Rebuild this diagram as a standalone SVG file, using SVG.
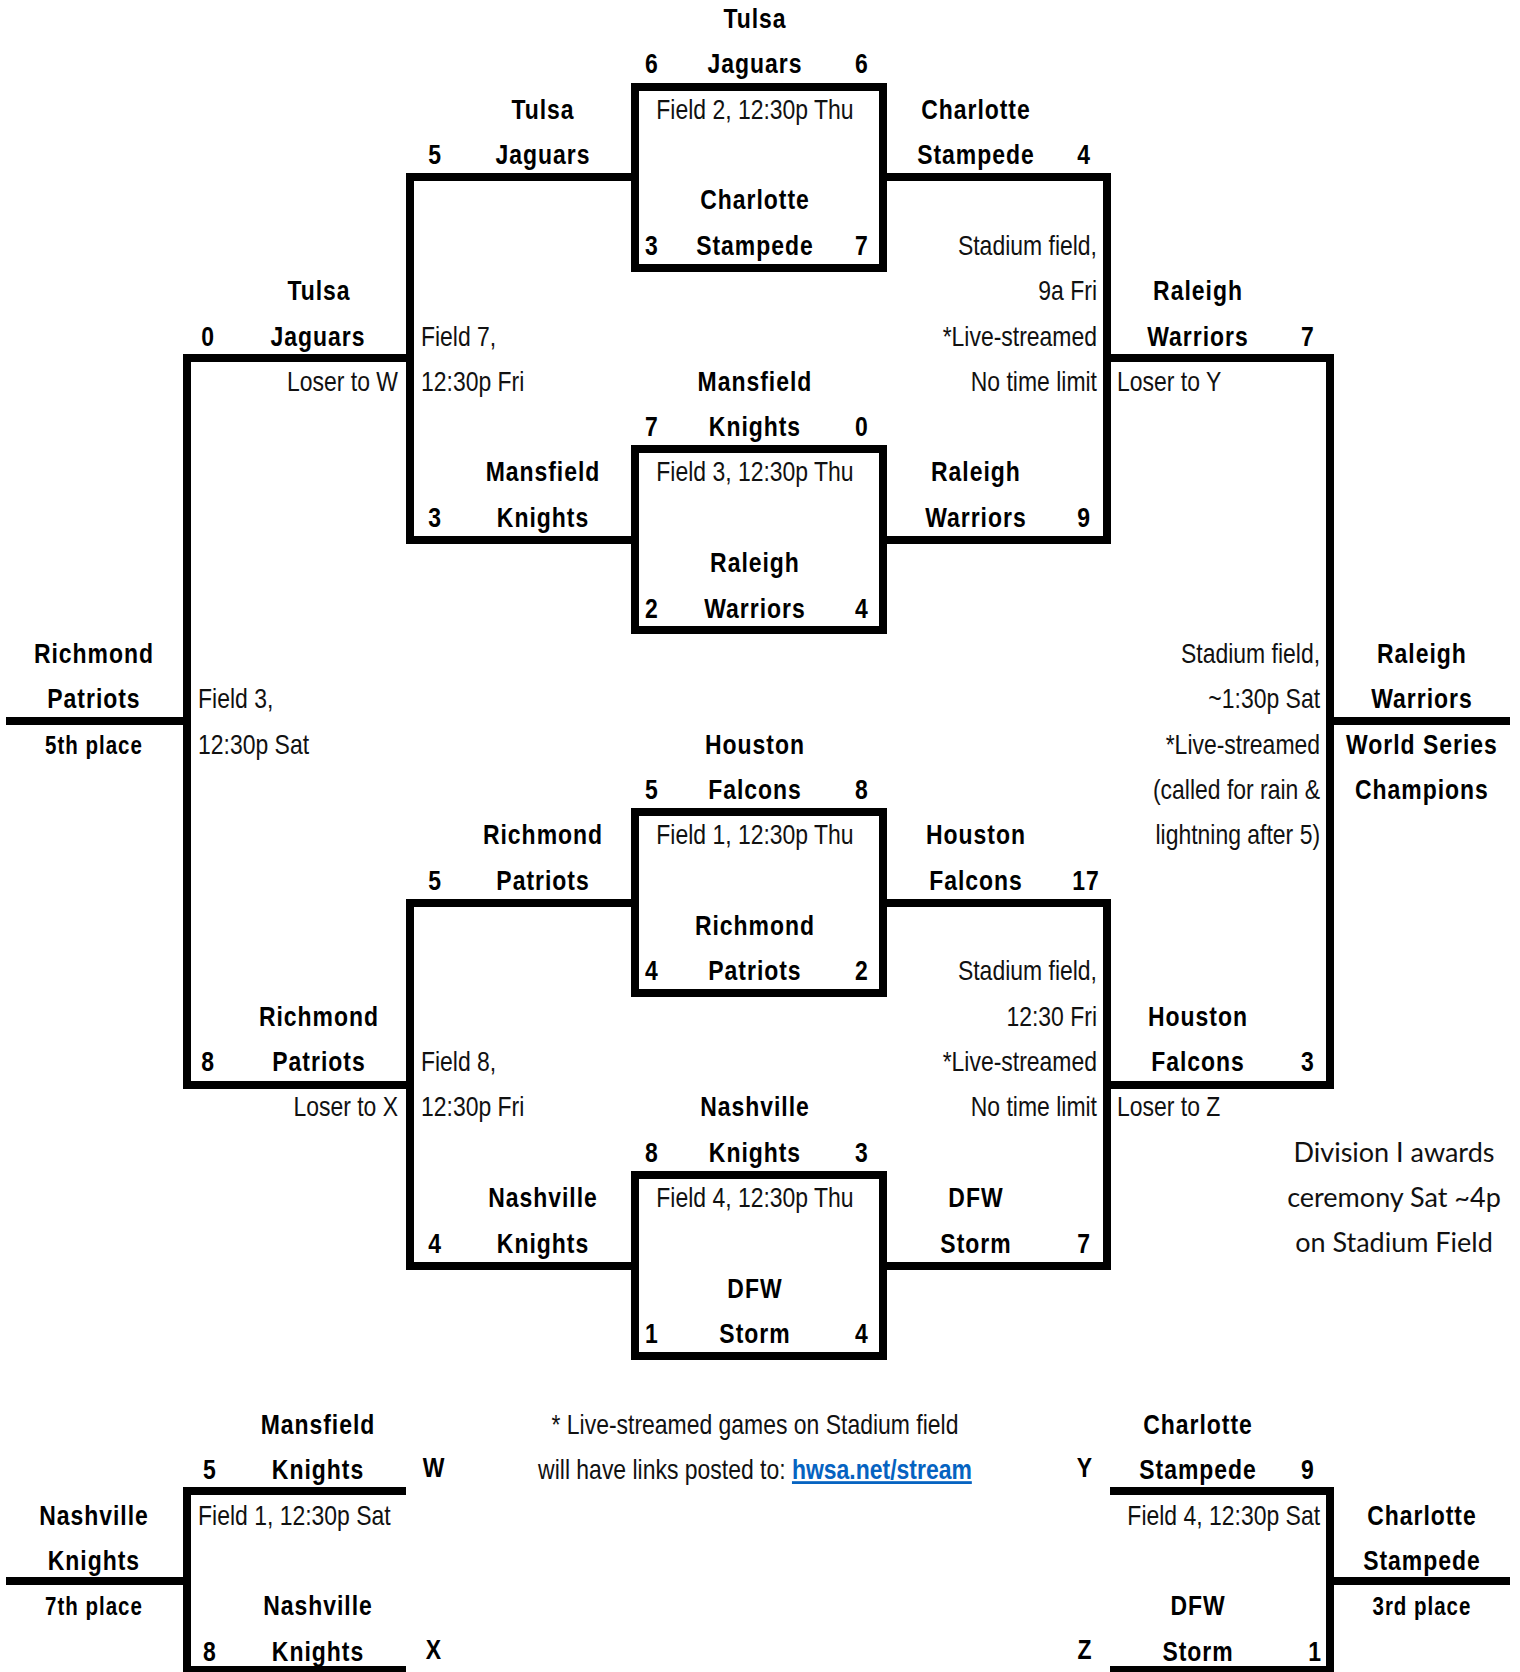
<svg xmlns="http://www.w3.org/2000/svg" width="1520" height="1672" viewBox="0 0 1520 1672">
<style>
text{font-family:"Liberation Sans",Arial,sans-serif;fill:#000}
.b{font-weight:bold;font-size:28px;letter-spacing:1.2px;text-anchor:middle}
.s{font-weight:bold;font-size:25px;letter-spacing:1.2px;text-anchor:middle}
.r{font-size:28px;text-anchor:middle;fill:#111}
.rs{font-size:28px;text-anchor:start;fill:#111}
.re{font-size:28px;text-anchor:end;fill:#111}
.c{font-family:Lato,"Open Sans",sans-serif;font-size:27px;text-anchor:middle;fill:#111}
.box{fill:none;stroke:#000;stroke-width:8}
.ln{fill:none;stroke:#000;stroke-width:8;stroke-linejoin:miter;stroke-linecap:square}
.lk{fill:#0563C1;font-weight:bold;text-decoration:underline}
</style>
<rect width="1520" height="1672" fill="#fff"/>
<g id="connectors">
<polyline class="ln" points="635,177 410,177 410,540 635,540"/>
<polyline class="ln" points="883,177 1107,177 1107,540 883,540"/>
<polyline class="ln" points="410,358 187,358 187,1085 410,1085"/>
<polyline class="ln" points="1107,358 1330,358 1330,1085 1107,1085"/>
<polyline class="ln" points="635,903 410,903 410,1266 635,1266"/>
<polyline class="ln" points="883,903 1107,903 1107,1266 883,1266"/>
<line class="ln" x1="187" y1="721" x2="10" y2="721"/>
<line class="ln" x1="1330" y1="721" x2="1506" y2="721"/>
<polyline class="ln" points="402,1491 187,1491 187,1670 402,1670"/>
<line class="ln" x1="187" y1="1581" x2="10" y2="1581"/>
<polyline class="ln" points="1114,1491 1330,1491 1330,1670 1114,1670"/>
<line class="ln" x1="1330" y1="1581" x2="1506" y2="1581"/>
</g>
<g id="game-field2-thu">
<rect class="box" x="635" y="87" width="248" height="181"/>
<g transform="scale(0.82 1)">
<text class="b" x="920.7" y="28">Tulsa</text>
<text class="b" x="795.1" y="73">6</text><text class="b" x="920.7" y="73">Jaguars</text><text class="b" x="1051.2" y="73">6</text>
<text class="r" x="920.7" y="119">Field 2, 12:30p Thu</text>
<text class="b" x="920.7" y="209">Charlotte</text>
<text class="b" x="795.1" y="255">3</text><text class="b" x="920.7" y="255">Stampede</text><text class="b" x="1051.2" y="255">7</text>
</g>
</g>
<g id="game-field3-thu">
<rect class="box" x="635" y="449" width="248" height="181"/>
<g transform="scale(0.82 1)">
<text class="b" x="920.7" y="391">Mansfield</text>
<text class="b" x="795.1" y="436">7</text><text class="b" x="920.7" y="436">Knights</text><text class="b" x="1051.2" y="436">0</text>
<text class="r" x="920.7" y="481">Field 3, 12:30p Thu</text>
<text class="b" x="920.7" y="572">Raleigh</text>
<text class="b" x="795.1" y="618">2</text><text class="b" x="920.7" y="618">Warriors</text><text class="b" x="1051.2" y="618">4</text>
</g>
</g>
<g id="game-field1-thu">
<rect class="box" x="635" y="812" width="248" height="181"/>
<g transform="scale(0.82 1)">
<text class="b" x="920.7" y="754">Houston</text>
<text class="b" x="795.1" y="799">5</text><text class="b" x="920.7" y="799">Falcons</text><text class="b" x="1051.2" y="799">8</text>
<text class="r" x="920.7" y="844">Field 1, 12:30p Thu</text>
<text class="b" x="920.7" y="935">Richmond</text>
<text class="b" x="795.1" y="980">4</text><text class="b" x="920.7" y="980">Patriots</text><text class="b" x="1051.2" y="980">2</text>
</g>
</g>
<g id="game-field4-thu">
<rect class="box" x="635" y="1175" width="248" height="181"/>
<g transform="scale(0.82 1)">
<text class="b" x="920.7" y="1116">Nashville</text>
<text class="b" x="795.1" y="1162">8</text><text class="b" x="920.7" y="1162">Knights</text><text class="b" x="1051.2" y="1162">3</text>
<text class="r" x="920.7" y="1207">Field 4, 12:30p Thu</text>
<text class="b" x="920.7" y="1298">DFW</text>
<text class="b" x="795.1" y="1343">1</text><text class="b" x="920.7" y="1343">Storm</text><text class="b" x="1051.2" y="1343">4</text>
</g>
</g>
<g id="game-field7-fri">
<g transform="scale(0.82 1)">
<text class="b" x="662.2" y="119">Tulsa</text>
<text class="b" x="530.5" y="164">5</text><text class="b" x="662.2" y="164">Jaguars</text>
<text class="b" x="662.2" y="481">Mansfield</text>
<text class="b" x="530.5" y="527">3</text><text class="b" x="662.2" y="527">Knights</text>
<text class="rs" x="513.4" y="346">Field 7,</text>
<text class="rs" x="513.4" y="391">12:30p Fri</text>
</g>
</g>
<g id="game-stadium-9a-fri">
<g transform="scale(0.82 1)">
<text class="b" x="1190.2" y="119">Charlotte</text>
<text class="b" x="1190.2" y="164">Stampede</text><text class="b" x="1322" y="164">4</text>
<text class="b" x="1190.2" y="481">Raleigh</text>
<text class="b" x="1190.2" y="527">Warriors</text><text class="b" x="1322" y="527">9</text>
<text class="re" x="1337.8" y="255">Stadium field,</text>
<text class="re" x="1337.8" y="300">9a Fri</text>
<text class="re" x="1337.8" y="346">*Live-streamed</text>
<text class="re" x="1337.8" y="391">No time limit</text>
</g>
</g>
<g id="game-field8-fri">
<g transform="scale(0.82 1)">
<text class="b" x="662.2" y="844">Richmond</text>
<text class="b" x="530.5" y="890">5</text><text class="b" x="662.2" y="890">Patriots</text>
<text class="b" x="662.2" y="1207">Nashville</text>
<text class="b" x="530.5" y="1253">4</text><text class="b" x="662.2" y="1253">Knights</text>
<text class="rs" x="513.4" y="1071">Field 8,</text>
<text class="rs" x="513.4" y="1116">12:30p Fri</text>
</g>
</g>
<g id="game-stadium-1230-fri">
<g transform="scale(0.82 1)">
<text class="b" x="1190.2" y="844">Houston</text>
<text class="b" x="1190.2" y="890">Falcons</text><text class="b" x="1324.4" y="890">17</text>
<text class="b" x="1190.2" y="1207">DFW</text>
<text class="b" x="1190.2" y="1253">Storm</text><text class="b" x="1322" y="1253">7</text>
<text class="re" x="1337.8" y="980">Stadium field,</text>
<text class="re" x="1337.8" y="1026">12:30 Fri</text>
<text class="re" x="1337.8" y="1071">*Live-streamed</text>
<text class="re" x="1337.8" y="1116">No time limit</text>
</g>
</g>
<g id="game-field3-sat">
<g transform="scale(0.82 1)">
<text class="b" x="389" y="300">Tulsa</text>
<text class="b" x="253.7" y="346">0</text><text class="b" x="387.8" y="346">Jaguars</text>
<text class="re" x="485.4" y="391">Loser to W</text>
<text class="b" x="389" y="1026">Richmond</text>
<text class="b" x="253.7" y="1071">8</text><text class="b" x="389" y="1071">Patriots</text>
<text class="re" x="485.4" y="1116">Loser to X</text>
<text class="rs" x="241.5" y="708">Field 3,</text>
<text class="rs" x="241.5" y="754">12:30p Sat</text>
</g>
</g>
<g id="fifth-place">
<g transform="scale(0.82 1)">
<text class="b" x="114.6" y="663">Richmond</text>
<text class="b" x="114.6" y="708">Patriots</text>
<text class="s" x="114.6" y="754">5th place</text>
</g>
</g>
<g id="game-stadium-sat">
<g transform="scale(0.82 1)">
<text class="b" x="1461" y="300">Raleigh</text>
<text class="b" x="1461" y="346">Warriors</text><text class="b" x="1595.1" y="346">7</text>
<text class="rs" x="1362.2" y="391">Loser to Y</text>
<text class="b" x="1461" y="1026">Houston</text>
<text class="b" x="1461" y="1071">Falcons</text><text class="b" x="1595.1" y="1071">3</text>
<text class="rs" x="1362.2" y="1116">Loser to Z</text>
<text class="re" x="1609.8" y="663">Stadium field,</text>
<text class="re" x="1609.8" y="708">~1:30p Sat</text>
<text class="re" x="1609.8" y="754">*Live-streamed</text>
<text class="re" x="1609.8" y="799">(called for rain &amp;</text>
<text class="re" x="1609.8" y="844">lightning after 5)</text>
</g>
</g>
<g id="champions">
<g transform="scale(0.82 1)">
<text class="b" x="1734.1" y="663">Raleigh</text>
<text class="b" x="1734.1" y="708">Warriors</text>
<text class="b" x="1734.1" y="754">World Series</text>
<text class="b" x="1734.1" y="799">Champions</text>
</g>
</g>
<g id="awards-note">
<text class="c" x="1394" y="1162">Division I awards</text>
<text class="c" x="1394" y="1207">ceremony Sat ~4p</text>
<text class="c" x="1394" y="1252">on Stadium Field</text>
</g>
<g id="stream-note">
<g transform="scale(0.82 1)">
<text class="r" x="920.7" y="1434">* Live-streamed games on Stadium field</text>
<text class="r" x="920.7" y="1479">will have links posted to: <tspan class="lk">hwsa.net/stream</tspan></text>
</g>
</g>
<g id="game-field1-sat">
<g transform="scale(0.82 1)">
<text class="b" x="387.8" y="1434">Mansfield</text>
<text class="b" x="256.1" y="1479">5</text><text class="b" x="387.8" y="1479">Knights</text>
<text class="b" x="529.3" y="1477">W</text>
<text class="rs" x="241.5" y="1525">Field 1, 12:30p Sat</text>
<text class="b" x="387.8" y="1615">Nashville</text>
<text class="b" x="256.1" y="1661">8</text><text class="b" x="387.8" y="1661">Knights</text>
<text class="b" x="529.3" y="1659">X</text>
</g>
</g>
<g id="seventh-place">
<g transform="scale(0.82 1)">
<text class="b" x="114.6" y="1525">Nashville</text>
<text class="b" x="114.6" y="1570">Knights</text>
<text class="s" x="114.6" y="1615">7th place</text>
</g>
</g>
<g id="game-field4-sat">
<g transform="scale(0.82 1)">
<text class="b" x="1461" y="1434">Charlotte</text>
<text class="b" x="1323.2" y="1477">Y</text>
<text class="b" x="1461" y="1479">Stampede</text><text class="b" x="1595.1" y="1479">9</text>
<text class="re" x="1609.8" y="1525">Field 4, 12:30p Sat</text>
<text class="b" x="1461" y="1615">DFW</text>
<text class="b" x="1323.2" y="1659">Z</text>
<text class="b" x="1461" y="1661">Storm</text><text class="b" x="1603.7" y="1661">1</text>
</g>
</g>
<g id="third-place">
<g transform="scale(0.82 1)">
<text class="b" x="1734.1" y="1525">Charlotte</text>
<text class="b" x="1734.1" y="1570">Stampede</text>
<text class="s" x="1734.1" y="1615">3rd place</text>
</g>
</g>
</svg>
